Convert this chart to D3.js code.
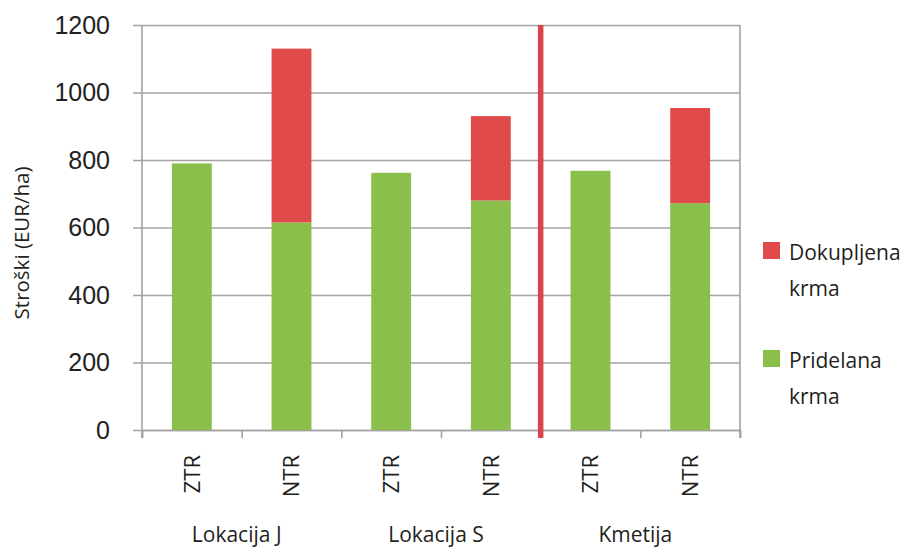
<!DOCTYPE html>
<html>
<head>
<meta charset="utf-8">
<script src="https://cdn.jsdelivr.net/npm/d3@7"></script>
<style>
  html, body { margin: 0; padding: 0; background: #ffffff; }
  svg { display: block; font-family: "Open Sans", "DejaVu Sans", sans-serif; }
</style>
</head>
<body>
<svg id="chart" width="906" height="548"></svg>
<script>
// Treatments per bar, in drawing order
const categories = ["ZTR", "NTR", "ZTR", "NTR", "ZTR", "NTR"];
// Location groups, two bars each
const groups = ["Lokacija J", "Lokacija S", "Kmetija"];
// Costs of home-grown feed (EUR/ha)
const pridelana = [790, 615, 762, 680, 768, 672];
// Costs of purchased feed (EUR/ha)
const dokupljena = [0, 515, 0, 250, 0, 282];
// Y axis ticks
const yTicks = [0, 200, 400, 600, 800, 1000, 1200];
// Legend entries (top to bottom)
const legendLabels = [["Dokupljena", "krma"], ["Pridelana", "krma"]];

const colRed = "#e04a4b";
const colGreen = "#8bbf4b";
const gridCol = "#a3a3a3";
const textCol = "#231f20";

const svg = d3.select("#chart");

const plotLeft = 142, plotRight = 740, plotTop = 25, plotBottom = 430;

const y = d3.scaleLinear().domain([0, 1200]).range([plotBottom, plotTop]);
const x = d3.scaleBand()
  .domain(d3.range(categories.length))
  .range([plotLeft, plotRight])
  .paddingInner(0.6)
  .paddingOuter(0.3);
// Positions of band boundaries (axis ticks)
const xb = d3.scaleLinear().domain([0, categories.length]).range([plotLeft, plotRight]);

// Horizontal gridlines
const grid = svg.append("g")
  .attr("transform", `translate(${plotLeft - 9},0)`)
  .call(d3.axisRight(y).tickValues(yTicks).tickSize(plotRight - plotLeft + 9).tickFormat(""));
grid.select(".domain").remove();
grid.selectAll(".tick line").attr("stroke", gridCol).attr("stroke-width", 1.6);

// Y axis labels
const yAxis = svg.append("g")
  .attr("transform", `translate(${plotLeft},0)`)
  .call(d3.axisLeft(y).tickValues(yTicks).tickSize(0).tickPadding(32).tickFormat(d3.format("d")));
yAxis.select(".domain").remove();
yAxis.selectAll("text")
  .attr("font-size", 25)
  .attr("fill", "#222")
  .attr("font-family", "'Liberation Sans', Arial, sans-serif");

// Vertical axis line and right border
[plotLeft, plotRight].forEach(px => {
  svg.append("line")
    .attr("x1", px).attr("x2", px)
    .attr("y1", plotTop).attr("y2", plotBottom + 8)
    .attr("stroke", gridCol).attr("stroke-width", 1.6);
});

// X axis with ticks at band boundaries
const xAxis = svg.append("g")
  .attr("transform", `translate(0,${plotBottom})`)
  .call(d3.axisBottom(xb).tickValues(d3.range(categories.length + 1)).tickSize(8).tickFormat(""));
xAxis.select(".domain").attr("stroke", gridCol).attr("stroke-width", 1.6);
xAxis.selectAll(".tick line").attr("stroke", gridCol).attr("stroke-width", 1.6);

// Stacked bars: home-grown at the base, purchased on top
svg.append("g").selectAll("rect")
  .data(pridelana)
  .join("rect")
  .attr("x", (d, i) => x(i))
  .attr("width", x.bandwidth())
  .attr("y", d => y(d))
  .attr("height", d => y(0) - y(d))
  .attr("fill", colGreen);

svg.append("g").selectAll("rect")
  .data(dokupljena)
  .join("rect")
  .attr("x", (d, i) => x(i))
  .attr("width", x.bandwidth())
  .attr("y", (d, i) => y(pridelana[i] + d))
  .attr("height", (d, i) => y(pridelana[i]) - y(pridelana[i] + d))
  .attr("fill", colRed);

// Separator between the two locations and the farm
svg.append("line")
  .attr("x1", xb(4)).attr("x2", xb(4))
  .attr("y1", plotTop).attr("y2", plotBottom + 8)
  .attr("stroke", "#d9454a").attr("stroke-width", 5.5);

// Treatment labels (rotated)
svg.append("g").selectAll("text")
  .data(categories)
  .join("text")
  .attr("transform", (d, i) => `translate(${x(i) + x.bandwidth() / 2},455) rotate(-90)`)
  .attr("text-anchor", "end")
  .attr("dy", "0.35em")
  .attr("font-size", 22)
  .attr("fill", textCol)
  .text(d => d);

// Group labels
svg.append("g").selectAll("text")
  .data(groups)
  .join("text")
  .attr("x", (d, i) => xb(i * 2 + 1) - 5)
  .attr("y", 542)
  .attr("text-anchor", "middle")
  .attr("font-size", 21)
  .attr("fill", textCol)
  .text(d => d);

// Y axis title
svg.append("text")
  .attr("transform", `translate(29,243) rotate(-90)`)
  .attr("text-anchor", "middle")
  .attr("font-size", 20.5)
  .attr("fill", textCol)
  .text("Stroški (EUR/ha)");

// Legend
const legendColors = [colRed, colGreen];
const legendY = [260, 368];
legendLabels.forEach((lines, k) => {
  const g = svg.append("g");
  g.append("rect")
    .attr("x", 763).attr("y", legendY[k] - 18)
    .attr("width", 17).attr("height", 17)
    .attr("fill", legendColors[k]);
  lines.forEach((t, j) => {
    g.append("text")
      .attr("x", 789)
      .attr("y", legendY[k] + j * 36)
      .attr("font-size", 21)
      .attr("fill", textCol)
      .text(t);
  });
});
</script>
</body>
</html>
